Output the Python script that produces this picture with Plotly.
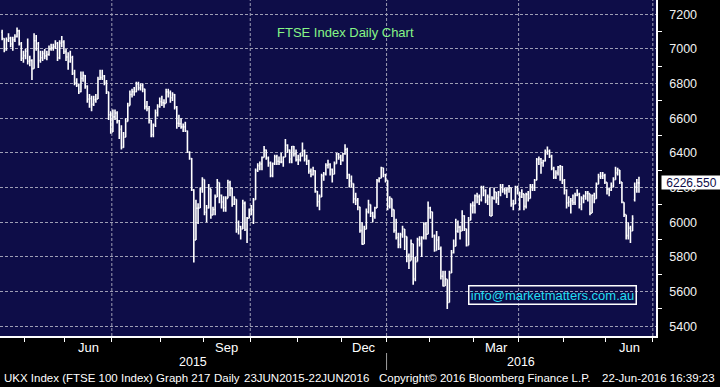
import pandas as pd
import plotly.graph_objects as go

# ---------------- data (FTSE 100 daily OHLC) ----------------
open_ = [
    7096, 7060, 6994, 7052, 7062, 7028, 7053, 7071, 7104, 7030, 6946,
    6961, 6986, 6928, 6933, 6886, 7047, 7030, 6933, 6949, 6973, 6960, 6968, 7000, 7007, 7013, 7031, 6948, 7033, 7040,
    6984, 6953, 6928, 6950, 6859, 6804, 6790, 6753, 6830, 6846, 6784, 6710, 6714, 6680, 6707, 6711, 6825, 6834, 6844, 6808, 6753, 6620,
    6521, 6608, 6630, 6585, 6536, 6432, 6490, 6581, 6673, 6737, 6753, 6753, 6796, 6775, 6789, 6769, 6667, 6655, 6588, 6505, 6560, 6632, 6668,
    6696, 6689, 6686, 6752, 6746, 6718, 6736, 6664, 6571, 6568, 6550, 6550, 6526, 6404, 6367, 6187, 5898, 6081, 6082, 6192,
    6247, 6058, 6083, 6194, 6042, 6074, 6146, 6229, 6155, 6117, 6084, 6138, 6229, 6197, 6104, 6133, 5960, 5976, 5961, 6109, 5958, 6023,
    6061, 6072, 6130, 6299, 6326, 6336, 6374, 6416, 6371, 6342, 6270, 6338, 6378, 6352, 6348, 6348, 6376, 6444, 6417, 6365, 6437, 6395,
    6361, 6361, 6383, 6412, 6364, 6353, 6295, 6275, 6297, 6178, 6118, 6146, 6268, 6278, 6329, 6334, 6305, 6277, 6338, 6393, 6375,
    6356, 6395, 6420, 6275, 6238, 6223, 6135, 6126, 6088, 5952, 5874, 5960, 6061, 6102, 6052, 6034, 6083, 6240, 6254, 6314, 6274,
    6242, 6093, 6137, 6073, 5954, 5912, 5871, 5929, 5961, 5918, 5804, 5779, 5876, 5673, 5773, 5900, 5877, 5911, 5990, 5931,
    6083, 6060, 5922, 5837, 5898, 5848, 5689, 5632, 5672, 5537, 5707, 5824, 5862, 5948, 5972, 5950, 6037, 5962, 5867, 6012, 6096,
    6097, 6153, 6147, 6130, 6199, 6182, 6125, 6146, 6036, 6139, 6174, 6140, 6175, 6201, 6189, 6184, 6192, 6199, 6106, 6106, 6203,
    6175, 6146, 6164, 6092, 6161, 6137, 6204, 6200, 6242, 6362, 6365, 6343, 6354, 6405, 6410, 6381, 6310, 6260, 6284, 6319, 6322,
    6241, 6185, 6112, 6117, 6125, 6114, 6156, 6162, 6104, 6138, 6151, 6167, 6165, 6053, 6156, 6136, 6219, 6263, 6265, 6270,
    6231, 6191, 6185, 6209, 6245, 6285, 6301, 6232, 6115, 6044, 5923, 5966, 5950, 6130, 6204, 6227,
]
high = [
    7110, 7062, 7065, 7090, 7070, 7070, 7085, 7123, 7110, 7040, 6990,
    7000, 7060, 6960, 6940, 7090, 7080, 7040, 6990, 6990, 7000, 6990, 7020, 7030, 7030, 7050, 7040, 7050, 7075, 7050,
    7000, 6980, 6990, 6960, 6880, 6830, 6800, 6870, 6870, 6850, 6790, 6740, 6730, 6730, 6740, 6840, 6880, 6880, 6850, 6820, 6753, 6640,
    6650, 6650, 6640, 6590, 6560, 6520, 6600, 6690, 6760, 6770, 6780, 6810, 6810, 6800, 6800, 6770, 6700, 6670, 6590, 6570, 6650, 6680, 6720,
    6730, 6710, 6770, 6770, 6760, 6750, 6740, 6670, 6620, 6600, 6570, 6580, 6530, 6410, 6370, 6190, 6130, 6110, 6200, 6260,
    6247, 6100, 6220, 6194, 6090, 6160, 6250, 6229, 6160, 6150, 6150, 6245, 6240, 6197, 6150, 6133, 6010, 5980, 6130, 6120, 6030, 6080,
    6100, 6140, 6310, 6340, 6350, 6380, 6440, 6420, 6380, 6350, 6345, 6390, 6390, 6380, 6400, 6380, 6480, 6450, 6420, 6440, 6440, 6420,
    6390, 6400, 6460, 6420, 6390, 6360, 6310, 6320, 6300, 6180, 6160, 6280, 6290, 6340, 6360, 6340, 6310, 6350, 6400, 6400, 6390,
    6400, 6450, 6430, 6280, 6270, 6223, 6170, 6140, 6090, 6000, 5980, 6080, 6130, 6102, 6060, 6090, 6250, 6260, 6320, 6314, 6280,
    6242, 6150, 6137, 6073, 6020, 5940, 5940, 5980, 5961, 5918, 5820, 5900, 5876, 5800, 5910, 5920, 5920, 6000, 6000, 6120,
    6090, 6060, 5930, 5950, 5920, 5860, 5720, 5720, 5672, 5720, 5840, 5900, 6020, 6010, 5980, 6070, 6040, 5962, 6030, 6110, 6120,
    6160, 6170, 6160, 6210, 6210, 6190, 6160, 6200, 6150, 6200, 6175, 6180, 6220, 6220, 6200, 6200, 6215, 6199, 6130, 6210, 6210,
    6175, 6190, 6164, 6170, 6180, 6220, 6220, 6250, 6370, 6380, 6370, 6360, 6420, 6437, 6420, 6390, 6320, 6300, 6325, 6330, 6325,
    6250, 6190, 6150, 6140, 6160, 6170, 6190, 6170, 6150, 6160, 6180, 6180, 6165, 6160, 6170, 6230, 6280, 6290, 6290, 6280,
    6231, 6200, 6230, 6260, 6320, 6315, 6301, 6232, 6115, 6044, 6000, 5980, 6040, 6230, 6250, 6262,
]
low = [
    7050, 6980, 6990, 7040, 7010, 6990, 7040, 7065, 7020, 6930, 6920,
    6940, 6910, 6900, 6820, 6886, 6990, 6890, 6920, 6930, 6940, 6935, 6960, 6990, 6990, 7000, 6930, 6940, 7010, 6970,
    6930, 6880, 6920, 6850, 6790, 6780, 6740, 6750, 6810, 6770, 6690, 6660, 6640, 6670, 6690, 6711, 6820, 6820, 6790, 6740, 6590, 6510,
    6521, 6590, 6570, 6480, 6420, 6430, 6490, 6581, 6673, 6720, 6730, 6750, 6760, 6760, 6750, 6650, 6640, 6570, 6490, 6490, 6550, 6610, 6660,
    6670, 6660, 6686, 6720, 6690, 6700, 6650, 6540, 6550, 6540, 6520, 6520, 6400, 6360, 6180, 5768, 5898, 5990, 6082, 6170,
    6040, 6000, 6080, 6020, 6040, 6040, 6146, 6110, 6080, 6060, 6060, 6138, 6150, 6090, 6100, 5940, 5930, 5900, 5961, 5950, 5880, 6023,
    6040, 5990, 6130, 6290, 6300, 6300, 6374, 6360, 6320, 6260, 6260, 6330, 6330, 6330, 6340, 6320, 6376, 6400, 6340, 6340, 6380, 6350,
    6330, 6350, 6380, 6350, 6330, 6280, 6260, 6270, 6170, 6090, 6070, 6146, 6240, 6270, 6310, 6270, 6230, 6277, 6338, 6360, 6330,
    6350, 6390, 6250, 6200, 6200, 6110, 6100, 6070, 5940, 5870, 5874, 5960, 6050, 6030, 6000, 6020, 6083, 6230, 6254, 6260, 6230,
    6070, 6080, 6030, 5940, 5900, 5850, 5850, 5910, 5840, 5770, 5730, 5779, 5639, 5660, 5773, 5860, 5800, 5900, 5900, 5931,
    6020, 5910, 5830, 5837, 5840, 5670, 5630, 5632, 5500, 5537, 5707, 5820, 5862, 5940, 5900, 5950, 5950, 5860, 5867, 6012, 6050,
    6050, 6110, 6100, 6120, 6150, 6110, 6100, 6036, 6036, 6130, 6110, 6100, 6150, 6170, 6160, 6140, 6170, 6090, 6070, 6106, 6160,
    6070, 6140, 6070, 6080, 6120, 6137, 6180, 6180, 6242, 6330, 6280, 6320, 6350, 6390, 6370, 6300, 6250, 6250, 6270, 6240, 6220,
    6160, 6080, 6090, 6050, 6100, 6100, 6150, 6080, 6070, 6110, 6130, 6120, 6040, 6053, 6110, 6136, 6219, 6250, 6250, 6220,
    6160, 6150, 6180, 6200, 6245, 6270, 6220, 6110, 6030, 5900, 5900, 5880, 5950, 6120, 6170, 6170,
]
close = [
    7060, 6994, 7052, 7062, 7028, 7053, 7071, 7104, 7030, 6946, 6961,
    6986, 6928, 6933, 6886, 7047, 7030, 6933, 6949, 6973, 6960, 6968, 7000, 7007, 7013, 7031, 6948, 7033, 7040, 6984,
    6953, 6928, 6950, 6859, 6804, 6790, 6753, 6830, 6846, 6784, 6710, 6714, 6680, 6707, 6711, 6825, 6834, 6844, 6808, 6753, 6620, 6521,
    6608, 6630, 6585, 6536, 6432, 6490, 6581, 6673, 6737, 6753, 6753, 6796, 6775, 6789, 6769, 6667, 6655, 6588, 6505, 6560, 6632, 6668, 6696,
    6689, 6686, 6752, 6746, 6718, 6736, 6664, 6571, 6568, 6550, 6550, 6526, 6404, 6367, 6187, 5898, 6081, 6082, 6192, 6247,
    6058, 6083, 6194, 6042, 6074, 6146, 6229, 6155, 6117, 6084, 6138, 6229, 6197, 6104, 6133, 5960, 5976, 5961, 6109, 5958, 6023, 6061,
    6072, 6130, 6299, 6326, 6336, 6374, 6416, 6371, 6342, 6270, 6338, 6378, 6352, 6348, 6348, 6376, 6444, 6417, 6365, 6437, 6395, 6361,
    6361, 6383, 6412, 6364, 6353, 6295, 6275, 6297, 6178, 6118, 6146, 6268, 6278, 6329, 6334, 6305, 6277, 6338, 6393, 6375, 6356,
    6395, 6420, 6275, 6238, 6223, 6135, 6126, 6088, 5952, 5874, 5960, 6061, 6102, 6052, 6034, 6083, 6240, 6254, 6314, 6274, 6242,
    6093, 6137, 6073, 5954, 5912, 5871, 5929, 5961, 5918, 5804, 5779, 5876, 5673, 5773, 5900, 5877, 5911, 5990, 5931, 6083,
    6060, 5922, 5837, 5898, 5848, 5689, 5632, 5672, 5537, 5707, 5824, 5862, 5948, 5972, 5950, 6037, 5962, 5867, 6012, 6096, 6097,
    6153, 6147, 6130, 6199, 6182, 6125, 6146, 6036, 6139, 6174, 6140, 6175, 6201, 6189, 6184, 6192, 6199, 6106, 6106, 6203, 6175,
    6146, 6164, 6092, 6161, 6137, 6204, 6200, 6242, 6362, 6365, 6343, 6354, 6405, 6410, 6381, 6310, 6260, 6284, 6319, 6322, 6241,
    6185, 6112, 6117, 6125, 6114, 6156, 6162, 6104, 6138, 6151, 6167, 6165, 6053, 6156, 6136, 6219, 6263, 6265, 6270, 6231,
    6191, 6185, 6209, 6245, 6285, 6301, 6232, 6115, 6044, 5923, 5966, 5950, 6021, 6204, 6227, 6226.55,
]
last_price = 6226.55
y_ticks = [5400, 5600, 5800, 6000, 6200, 6400, 6600, 6800, 7000, 7200]
y_minor = [5500, 5700, 5900, 6100, 6300, 6500, 6700, 6900, 7100]
month_labels = {3: "Mar", 6: "Jun", 9: "Sep", 12: "Dec"}
uk_holidays = ["2015-05-04", "2015-05-25", "2015-08-31", "2015-12-25", "2015-12-28",
               "2016-01-01", "2016-03-25", "2016-03-28", "2016-05-02", "2016-05-30"]

# ---------------- trading calendar (Bloomberg plots trading days only) ----------------
cal = pd.bdate_range("2015-04-16", "2016-07-01")
cal = cal[~cal.isin(pd.to_datetime(uk_holidays))]
n = len(close)
assert len(open_) == n and len(high) == n and len(low) == n, (len(open_), len(high), len(low), n)
idx = list(range(n))

cal_df = pd.DataFrame({"d": cal, "i": range(len(cal))})
cal_df["ym"] = cal_df["d"].dt.to_period("M")
first_idx = cal_df.groupby("ym")["i"].min()
mean_idx = cal_df.groupby("ym")["i"].mean()

X0, X1 = -1.0, 307.0
PW, PH = 656, 336


def px_to_x(px):
    return X0 + px / PW * (X1 - X0)


def px_to_py(py):
    return (PH - py) / PH


BG = "#0e0d48"
GRID = "#9e9eb4"

fig = go.Figure()
fig.add_trace(go.Ohlc(
    x=idx, open=open_, high=high, low=low, close=close,
    increasing=dict(line=dict(color="white", width=1.6)),
    decreasing=dict(line=dict(color="white", width=1.6)),
    tickwidth=0.45, hoverinfo="skip", showlegend=False,
))
# right-pointing tick triangles on the price axis
fig.add_trace(go.Scatter(
    x=[px_to_x(660)] * len(y_ticks), y=y_ticks, mode="markers",
    marker=dict(symbol="triangle-right", size=7, color="white", line=dict(width=0)),
    cliponaxis=False, hoverinfo="skip", showlegend=False,
))
# pointer for last-price box
fig.add_trace(go.Scatter(
    x=[px_to_x(660)], y=[last_price], mode="markers",
    marker=dict(symbol="triangle-left", size=12, color="white", line=dict(width=0)),
    cliponaxis=False, hoverinfo="skip", showlegend=False,
))

shapes = []
for ym, i0 in first_idx.items():
    if ym.month in (1, 4, 7, 10) and i0 > 0:
        shapes.append(dict(type="line", xref="x", yref="paper", x0=i0 - 0.5, x1=i0 - 0.5,
                           y0=0, y1=1, line=dict(color=GRID, width=1, dash="3px,2px"), layer="below"))
# year separator under the axis
jan_i = first_idx[pd.Period("2016-01", "M")] - 0.5
shapes.append(dict(type="line", xref="x", yref="paper", x0=jan_i, x1=jan_i,
                   y0=px_to_py(353), y1=px_to_py(370), line=dict(color="#a0a0a0", width=1)))

annotations = []
for ym, m in mean_idx.items():
    if ym.month in month_labels:
        annotations.append(dict(x=m, xref="x", y=px_to_py(347), yref="paper", text=month_labels[ym.month],
                                showarrow=False, font=dict(size=13, color="white"), xanchor="center", yanchor="middle"))
annotations.append(dict(x=(X0 + jan_i) / 2, xref="x", y=px_to_py(362), yref="paper", text="2015",
                        showarrow=False, font=dict(size=12.5, color="white"), yanchor="middle"))
annotations.append(dict(x=(jan_i + X1) / 2, xref="x", y=px_to_py(362), yref="paper", text="2016",
                        showarrow=False, font=dict(size=12.5, color="white"), yanchor="middle"))

foot_y = px_to_py(378)
for px, txt, anc in [(2, "UKX Index (FTSE 100 Index) Graph 217", "left"),
                     (212, "Daily", "left"),
                     (242, "23JUN2015-22JUN2016", "left"),
                     (377, "Copyright\u00a9 2016 Bloomberg Finance L.P.", "left"),
                     (717, "22-Jun-2016 16:39:23", "right")]:
    annotations.append(dict(x=px / PW, xref="paper", y=foot_y, yref="paper", text=txt, showarrow=False,
                            xanchor=anc, yanchor="middle", font=dict(size=11.5, color="white")))

annotations.append(dict(x=275 / PW, xref="paper", y=px_to_py(32), yref="paper", text="FTSE Index Daily Chart",
                        showarrow=False, xanchor="left", yanchor="middle", font=dict(size=13, color="#86f586")))
annotations.append(dict(x=552 / PW, xref="paper", y=px_to_py(295), yref="paper", text="info@marketmatters.com.au",
                        showarrow=False, xanchor="center", yanchor="middle", font=dict(size=13, color="#22def2"),
                        bordercolor="white", borderwidth=1.5, borderpad=1, width=164, height=15))
annotations.append(dict(x=661 / PW, xref="paper", y=last_price, yref="y", text="6226.550",
                        showarrow=False, xanchor="left", yanchor="middle", font=dict(size=12, color="#0e0d48"),
                        bgcolor="white", borderpad=0, width=59, height=13))

fig.update_layout(
    width=720, height=387, autosize=False,
    margin=dict(l=0, r=720 - PW, t=0, b=387 - PH, pad=0),
    paper_bgcolor="black", plot_bgcolor=BG,
    font=dict(family="Liberation Sans, Arial, sans-serif", color="white"),
    shapes=shapes, annotations=annotations, showlegend=False,
    xaxis=dict(range=[X0, X1], rangeslider=dict(visible=False), showgrid=False, zeroline=False,
               tickmode="array", tickvals=[i0 - 0.5 for i0 in first_idx.values if i0 > 0],
               ticktext=[""] * (len(first_idx) - 1), ticks="outside", ticklen=4, tickwidth=1,
               tickcolor="white", showticklabels=False,
               showline=True, linecolor="white", linewidth=1.5, fixedrange=True),
    yaxis=dict(range=[5344, 7282], side="right", tickmode="array", tickvals=y_ticks,
               ticktext=[str(v) for v in y_ticks], ticks="", ticklabelstandoff=9,
               tickfont=dict(size=12.5, color="#f2f2f2"),
               showgrid=True, gridcolor=GRID, griddash="3px,2px", gridwidth=1, zeroline=False,
               showline=True, linecolor="white", linewidth=1.5,
               minor=dict(tickmode="array", tickvals=y_minor, ticks="outside", ticklen=4,
                          tickcolor="white", tickwidth=1, showgrid=False)),
)

fig.write_html(
    "out.html",
    config={"displayModeBar": False},
    post_script="document.body.style.margin='0';document.body.style.overflow='hidden';",
)
